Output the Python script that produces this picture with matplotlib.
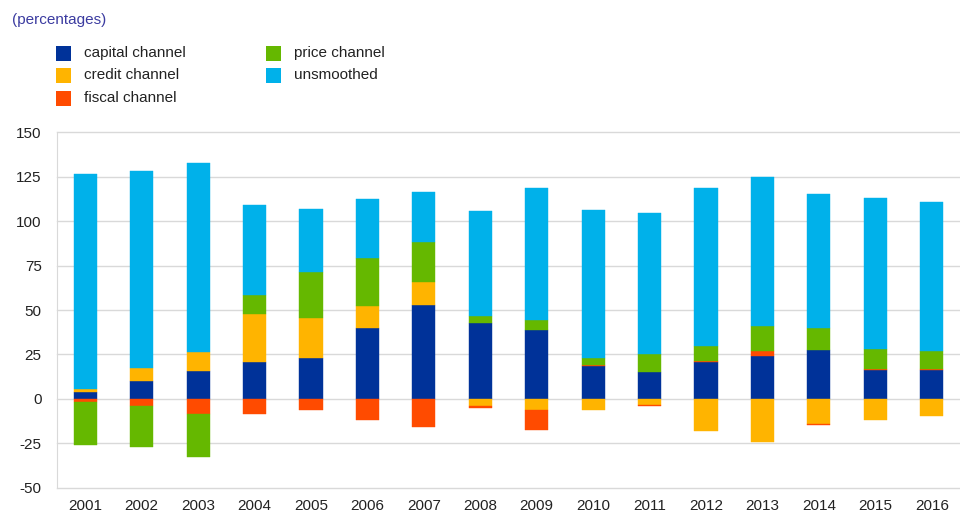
import matplotlib
matplotlib.use("Agg")
import matplotlib.pyplot as plt
from matplotlib.patches import Rectangle
import numpy as np

plt.rcParams['font.family'] = ['Liberation Sans', 'DejaVu Sans']

years = ["2001", "2002", "2003", "2004", "2005", "2006", "2007", "2008",
         "2009", "2010", "2011", "2012", "2013", "2014", "2015", "2016"]

capital = [4, 10, 15.5, 20.5, 23, 40, 53, 42.5, 39, 18.5, 15, 21, 24, 27.5, 16.5, 16]
credit = [1.5, 7.5, 11, 27, 22.5, 12, 13, -4, -6, -6.5, -3.5, -18, -24.5, -14, -12, -9.5]
fiscal = [-2, -4, -8.5, -8.5, -6.5, -12, -16, -1, -11.5, 0.5, -0.5, 0.5, 3, -0.5, 0.3, 1]
price = [-24, -23, -24.5, 11, 26, 27, 22.5, 4, 5.5, 4, 10.5, 8, 14, 12.5, 11, 10]
unsmoothed = [121, 110.5, 106.5, 50.5, 35.5, 33.5, 28, 59, 74, 83.5, 79, 89, 84, 75, 85.5, 83.5]

series = [
    ("capital channel", capital, "#003299"),
    ("credit channel", credit, "#FFB400"),
    ("fiscal channel", fiscal, "#FF4B00"),
    ("price channel", price, "#65B800"),
    ("unsmoothed", unsmoothed, "#00B1EA"),
]

yticks = [-50, -25, 0, 25, 50, 75, 100, 125, 150]

fig = plt.figure(figsize=(9.6, 5.3), dpi=100)
ax = fig.add_axes([57 / 960, 42.3 / 530, (960 - 57) / 960, 355.4 / 530])

x = np.arange(len(years))
pos_base = np.zeros(len(years))
neg_base = np.zeros(len(years))
for name, vals, color in series:
    v = np.array(vals, dtype=float)
    bottoms = np.where(v >= 0, pos_base, neg_base)
    ax.bar(x, v, bottom=bottoms, width=0.41, color=color, label=name,
           edgecolor=color, linewidth=0.3, zorder=3)
    pos_base = pos_base + np.where(v >= 0, v, 0)
    neg_base = neg_base + np.where(v < 0, v, 0)

ax.set_xlim(-0.5, len(years) - 0.5)
ax.set_ylim(-50, 150)
ax.set_yticks(yticks)
ax.set_yticklabels([str(t) for t in yticks])
ax.set_xticks(x)
ax.set_xticklabels(years)
ax.grid(axis='y', color='#d9d9d9', linewidth=1, zorder=0)
for gl in ax.get_ygridlines():
    gl.set_clip_on(False)
ax.set_axisbelow(True)
for s in ['top', 'right', 'bottom']:
    ax.spines[s].set_visible(False)
ax.spines['left'].set_color('#d9d9d9')
ax.tick_params(axis='both', length=0, labelsize=11, colors='#222222')
ax.tick_params(axis='y', pad=11)
ax.tick_params(axis='x', pad=8)

# title
fig.text(12 / 960, 1 - 20 / 530, "(percentages)", fontsize=11, color='#3B3BA0',
         va='center', ha='left')

# legend (manual layout)
sq = 15
col_x = [56, 266]
row_y = [53, 75, 98]
for i, (name, vals, color) in enumerate(series):
    c = 0 if i < 3 else 1
    r = i if i < 3 else i - 3
    xs, yc = col_x[c], row_y[r]
    fig.patches.append(Rectangle((xs / 960, 1 - (yc + sq / 2) / 530), sq / 960, sq / 530,
                                 transform=fig.transFigure, facecolor=color,
                                 edgecolor='none', figure=fig))
    fig.text((xs + 28) / 960, 1 - yc / 530, name, fontsize=11, color='#222222',
             va='center', ha='left')

fig.savefig("out.png", dpi=100)
